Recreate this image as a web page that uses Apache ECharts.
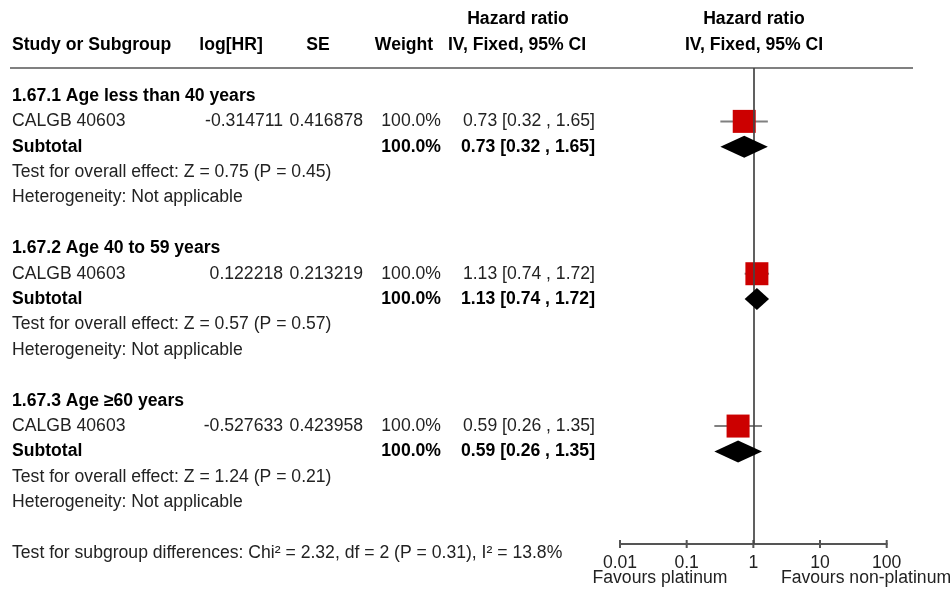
<!DOCTYPE html>
<html><head><meta charset="utf-8">
<script src="https://cdn.jsdelivr.net/npm/echarts@6/dist/echarts.min.js"></script>
<style>html,body{margin:0;padding:0;background:#fff}#c{width:952px;height:590px}</style>
</head><body><div id="c"></div>
<script>
// ---- data ----
const groupTitles = ['1.67.1 Age less than 40 years', '1.67.2 Age 40 to 59 years', '1.67.3 Age \u226560 years'];
const studyNames = ['CALGB 40603', 'CALGB 40603', 'CALGB 40603'];
const logHR = ['-0.314711', '0.122218', '-0.527633'];
const seValues = ['0.416878', '0.213219', '0.423958'];
const weights = [100.0, 100.0, 100.0];
const subtotalWeights = [100.0, 100.0, 100.0];
const hrValues = [0.73, 1.13, 0.59];
const ciLow = [0.32, 0.74, 0.26];
const ciHigh = [1.65, 1.72, 1.35];
const subtotalHR = [0.73, 1.13, 0.59];
const subtotalLow = [0.32, 0.74, 0.26];
const subtotalHigh = [1.65, 1.72, 1.35];
const overallTests = ['Z = 0.75 (P = 0.45)', 'Z = 0.57 (P = 0.57)', 'Z = 1.24 (P = 0.21)'];
const heterogeneity = ['Not applicable', 'Not applicable', 'Not applicable'];
const subgroupTest = 'Test for subgroup differences: Chi\u00b2 = 2.32, df = 2 (P = 0.31), I\u00b2 = 13.8%';
const axisTicks = [0.01, 0.1, 1, 10, 100];
const favourLabels = ['Favours platinum', 'Favours non-platinum'];

// ---- layout ----
const ROW_H = 25.39, ROW0 = 70.6, H = 590;
const FONT = 'Liberation Sans, Arial, sans-serif';
const FS = 17.6;
const fmtCI = (a, b, c) => a.toFixed(2) + ' [' + b.toFixed(2) + ' , ' + c.toFixed(2) + ']';
const rowOf = px => (px - ROW0) / ROW_H;

const texts = []; // [x, row, text, align, bold]
texts.push([518, rowOf(19), 'Hazard ratio', 'center', true]);
texts.push([754, rowOf(19), 'Hazard ratio', 'center', true]);
texts.push([12, rowOf(45), 'Study or Subgroup', 'left', true]);
texts.push([231, rowOf(45), 'log[HR]', 'center', true]);
texts.push([318, rowOf(45), 'SE', 'center', true]);
texts.push([404, rowOf(45), 'Weight', 'center', true]);
texts.push([517, rowOf(45), 'IV, Fixed, 95% CI', 'center', true]);
texts.push([754, rowOf(45), 'IV, Fixed, 95% CI', 'center', true]);

const studyRows = [], subRows = [];
groupTitles.forEach((t, g) => {
  const b = 6 * g;
  texts.push([12, b + 1, t, 'left', true]);
  texts.push([12, b + 2, studyNames[g], 'left', false]);
  texts.push([283, b + 2, logHR[g], 'right', false]);
  texts.push([363, b + 2, seValues[g], 'right', false]);
  texts.push([441, b + 2, weights[g].toFixed(1) + '%', 'right', false]);
  texts.push([595, b + 2, fmtCI(hrValues[g], ciLow[g], ciHigh[g]), 'right', false]);
  texts.push([12, b + 3, 'Subtotal', 'left', true]);
  texts.push([441, b + 3, subtotalWeights[g].toFixed(1) + '%', 'right', true]);
  texts.push([595, b + 3, fmtCI(subtotalHR[g], subtotalLow[g], subtotalHigh[g]), 'right', true]);
  texts.push([12, b + 4, 'Test for overall effect: ' + overallTests[g], 'left', false]);
  texts.push([12, b + 5, 'Heterogeneity: ' + heterogeneity[g], 'left', false]);
  studyRows.push(b + 2); subRows.push(b + 3);
});
texts.push([12, 19, subgroupTest, 'left', false]);

const yTop = rowOf(68), yBot = rowOf(544);

const chart = echarts.init(document.getElementById('c'), null, {renderer: 'canvas'});
chart.setOption({
  animation: false,
  grid: [
    {left: 0, right: 0, top: 0, bottom: 0},
    {left: 620, right: 952 - 886.7, top: 68, bottom: H - 544}
  ],
  xAxis: [
    {gridIndex: 0, type: 'value', min: 0, max: 952, show: false},
    {gridIndex: 1, type: 'log', logBase: 10, min: 0.01, max: 100, position: 'bottom',
      axisLine: {show: true, onZero: false, lineStyle: {color: '#555', width: 2}},
      axisTick: {show: false},
      splitLine: {show: false},
      axisLabel: {color: '#222', fontSize: FS, fontFamily: FONT, margin: 10,
        formatter: v => String(Number(v.toPrecision(3)))}}
  ],
  yAxis: [
    {gridIndex: 0, type: 'value', inverse: true, min: rowOf(0), max: rowOf(H), show: false},
    {gridIndex: 1, type: 'value', inverse: true, min: yTop, max: yBot, show: false}
  ],
  graphic: [
    {type: 'line', shape: {x1: 10, y1: 68, x2: 913, y2: 68}, style: {stroke: '#808080', lineWidth: 2}},
    {type: 'text', x: 660, y: 578, style: {text: favourLabels[0], font: FS + 'px ' + FONT, fill: '#222', textAlign: 'center', textVerticalAlign: 'middle'}},
    {type: 'text', x: 866, y: 578, style: {text: favourLabels[1], font: FS + 'px ' + FONT, fill: '#222', textAlign: 'center', textVerticalAlign: 'middle'}}
  ],
  series: [
    {
      type: 'custom', xAxisIndex: 0, yAxisIndex: 0, silent: true,
      data: texts.map(t => [t[0], t[1]]),
      renderItem: (params, api) => {
        const t = texts[params.dataIndex];
        const p = api.coord([t[0], t[1]]);
        return {type: 'text', x: p[0], y: p[1], style: {
          text: t[2], textAlign: t[3], textVerticalAlign: 'middle',
          font: (t[4] ? 'bold ' : '') + FS + 'px ' + FONT, fill: t[4] ? '#000' : '#222'}};
      }
    },
    {
      // axis tick marks crossing the axis line
      type: 'custom', xAxisIndex: 1, yAxisIndex: 1, silent: true, z: 2,
      data: axisTicks.map(v => [v, yBot]),
      renderItem: (params, api) => {
        const p = api.coord([api.value(0), api.value(1)]);
        return {type: 'line', shape: {x1: p[0], y1: p[1] - 4, x2: p[0], y2: p[1] + 4}, style: {stroke: '#555', lineWidth: 2}};
      }
    },
    {
      type: 'custom', xAxisIndex: 1, yAxisIndex: 1, silent: true, z: 2,
      data: hrValues.map((v, g) => [ciLow[g], ciHigh[g], studyRows[g]]),
      renderItem: (params, api) => {
        const a = api.coord([api.value(0), api.value(2)]);
        const b = api.coord([api.value(1), api.value(2)]);
        return {type: 'line', shape: {x1: a[0], y1: a[1], x2: b[0], y2: b[1]}, style: {stroke: '#808080', lineWidth: 2}};
      }
    },
    {
      type: 'scatter', xAxisIndex: 1, yAxisIndex: 1, silent: true, z: 3,
      symbol: 'rect', symbolSize: 23, itemStyle: {color: '#cc0000', opacity: 1},
      data: hrValues.map((v, g) => [v, studyRows[g]])
    },
    {
      type: 'custom', xAxisIndex: 1, yAxisIndex: 1, silent: true, z: 5,
      data: subtotalHR.map((v, g) => [subtotalLow[g], v, subtotalHigh[g], subRows[g]]),
      renderItem: (params, api) => {
        const r = api.value(3);
        const l = api.coord([api.value(0), r]);
        const m = api.coord([api.value(1), r]);
        const h = api.coord([api.value(2), r]);
        const hh = 11;
        return {type: 'polygon', shape: {points: [[l[0], l[1]], [m[0], m[1] - hh], [h[0], h[1]], [m[0], m[1] + hh]]}, style: {fill: '#000'}};
      }
    },
    {
      type: 'line', xAxisIndex: 1, yAxisIndex: 1, silent: true, z: 4, data: [],
      markLine: {silent: true, symbol: 'none', label: {show: false},
        lineStyle: {color: '#444', width: 2, type: 'solid', opacity: 0.85},
        data: [{xAxis: 1}]}
    }
  ]
});
</script></body></html>
